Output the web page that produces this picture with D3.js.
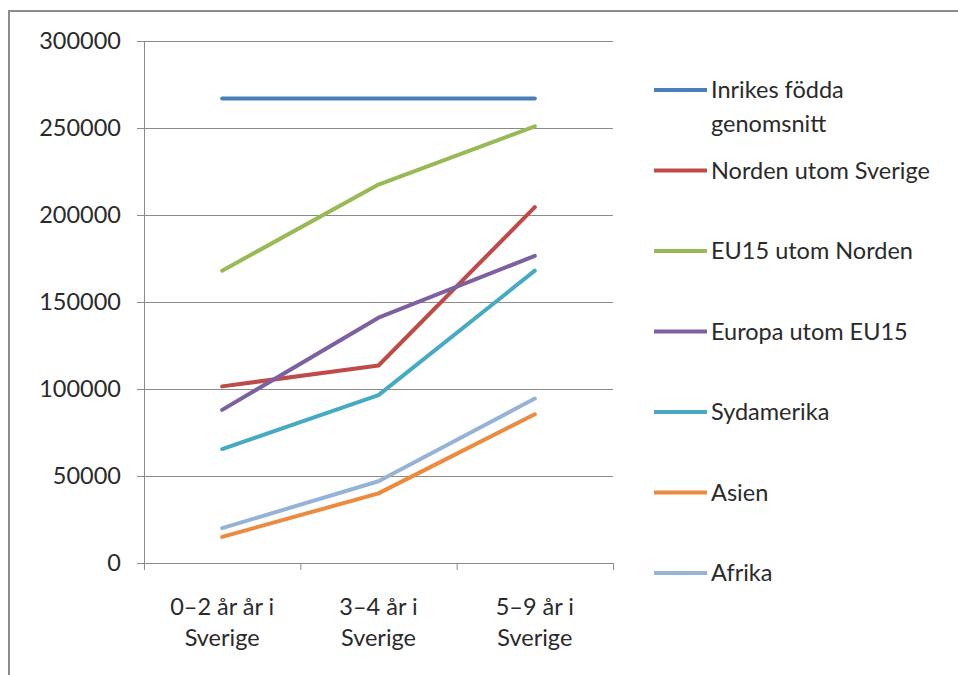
<!DOCTYPE html>
<html><head><meta charset="utf-8">
<script src="https://cdn.jsdelivr.net/npm/d3@7"></script>
<style>
html,body{margin:0;padding:0;background:#fff;}
text{font-family:Lato,"Open Sans",sans-serif;fill:#2a2a2a;}
</style></head>
<body><svg id="c" width="958" height="675"></svg>
<script>
const categories = ["0–2 år år i|Sverige", "3–4 år i|Sverige", "5–9 år i|Sverige"];
const seriesNames = ["Inrikes födda|genomsnitt", "Norden utom Sverige", "EU15 utom Norden", "Europa utom EU15", "Sydamerika", "Asien", "Afrika"];
const inrikes = [267000, 267000, 267000];
const norden = [101500, 113500, 204500];
const eu15 = [168000, 217500, 251000];
const europa = [88000, 141000, 176500];
const sydamerika = [65500, 96500, 168000];
const asien = [15000, 40000, 85500];
const afrika = [20000, 47000, 94500];
const yTicks = [0, 50000, 100000, 150000, 200000, 250000, 300000];
const colors = ["#4A7EBB", "#BE4B48", "#98B954", "#7D60A0", "#46AAC5", "#EC8A3E", "#95B3D7"];
const seriesValues = [inrikes, norden, eu15, europa, sydamerika, asien, afrika];

const svg = d3.select("#c");
svg.append("path").attr("d","M9,675 V11 H958").attr("fill","none").attr("stroke","#8c8c8c").attr("stroke-width",2);

const x0 = 144, x1 = 613, yTop = 41, yBot = 563;
const x = d3.scaleBand().domain(categories).range([x0, x1]);
const y = d3.scaleLinear().domain([0, 300000]).range([yBot, yTop]);
const FS = 23.5;

svg.append("g").selectAll("line").data(yTicks).join("line")
  .attr("x1", x0-7).attr("x2", x1).attr("y1", d=>y(d)+0.5).attr("y2", d=>y(d)+0.5)
  .attr("stroke","#8a8a8a").attr("stroke-width",1);
svg.append("line").attr("x1",x0+0.5).attr("x2",x0+0.5).attr("y1",yTop).attr("y2",yBot+7).attr("stroke","#8a8a8a");
const xb = [x0, ...categories.map(c=>x(c)+x.bandwidth())];
svg.append("g").selectAll("line").data(xb).join("line")
  .attr("x1",d=>d+0.5).attr("x2",d=>d+0.5).attr("y1",yBot).attr("y2",yBot+7).attr("stroke","#8a8a8a");
svg.append("g").selectAll("text").data(yTicks).join("text")
  .attr("x", 121).attr("y", d=>y(d)).attr("dy","0.35em").attr("text-anchor","end")
  .attr("font-size",FS).text(d=>d);
const xl = svg.append("g").selectAll("text").data(categories).join("text")
  .attr("text-anchor","middle").attr("font-size",FS);
xl.each(function(c){
  const parts = c.split("|");
  d3.select(this).selectAll("tspan").data(parts).join("tspan")
    .attr("x", x(c)+x.bandwidth()/2).attr("y",(d,i)=>615+i*31).text(d=>d);
});

const line = d3.line().x((d,i)=>x(categories[i])+x.bandwidth()/2).y(d=>y(d));
svg.append("g").selectAll("path").data(seriesValues).join("path")
  .attr("d", d=>line(d)).attr("fill","none").attr("stroke",(d,i)=>colors[i])
  .attr("stroke-width",4).attr("stroke-linecap","round").attr("stroke-linejoin","round");

const lg = svg.append("g").selectAll("g").data(seriesNames).join("g")
  .attr("transform",(d,i)=>`translate(0,${90+i*80.5})`);
lg.append("line").attr("x1",654).attr("x2",707).attr("y1",0).attr("y2",0)
  .attr("stroke",(d,i)=>colors[i]).attr("stroke-width",4);
lg.append("text").attr("font-size",FS).each(function(n){
  const parts = n.split("|");
  d3.select(this).selectAll("tspan").data(parts).join("tspan")
    .attr("x",711).attr("y",(d,i)=>i*34).attr("dy","0.35em").text(d=>d);
});
</script></body></html>
